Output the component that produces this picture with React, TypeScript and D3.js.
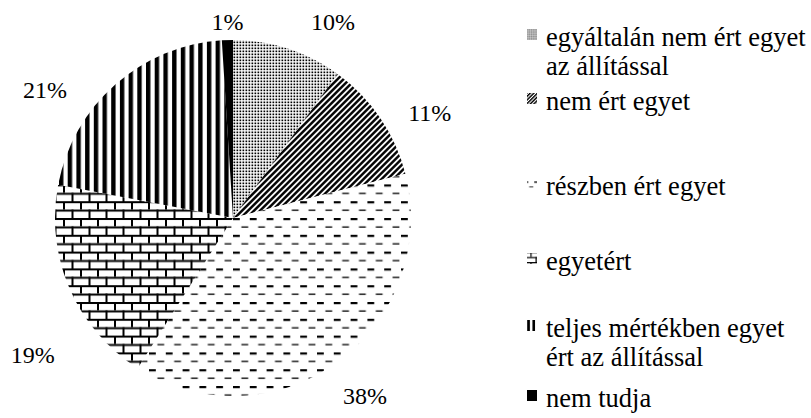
import React from "react";
import * as d3 from "d3";

const categories = [
  "egyáltalán nem ért egyet az állítással",
  "nem ért egyet",
  "részben ért egyet",
  "egyetért",
  "teljes mértékben egyet ért az állítással",
  "nem tudja",
];
const values = [10, 11, 38, 19, 21, 1];
const valueLabels = ["10%", "11%", "38%", "19%", "21%", "1%"];
const legendLines = [
  ["egyáltalán nem ért egyet", "az állítással"],
  ["nem ért egyet"],
  ["részben ért egyet"],
  ["egyetért"],
  ["teljes mértékben egyet", "ért az állítással"],
  ["nem tudja"],
];

// layout
const W = 811, H = 418;
const cx = 233, cy = 218, R = 178;
const labelR = R + 26;
const labelOffsets = [[37, -2], [28, 9], [12, 13], [-13, 56], [-53, 25], [1, 8]];
const legendBaselines = [46, 110, 195, 270, 337, 407];
const legendLineH = 29;
const patternIds = ["pDots", "pDiag", "pDash", "pBrick", "pVert", "pSolid"];
const FONT = "Liberation Serif, DejaVu Serif, Times New Roman, serif";

function Patterns({ suffix, scale }: { suffix: string; scale: number }) {
  const t = `scale(${scale})`;
  return (
    <>
      <pattern id={"pDots" + suffix} width={3} height={3} patternUnits="userSpaceOnUse" patternTransform={t}>
        <rect width={3} height={3} fill="#fff" />
        <rect x={0.5} y={0.5} width={1.7} height={1.7} fill="#000" />
      </pattern>
      <pattern id={"pDiag" + suffix} width={4.24} height={4.24} patternUnits="userSpaceOnUse" patternTransform={`${t} rotate(45)`}>
        <rect width={4.24} height={4.24} fill="#fff" />
        <rect width={2.4} height={4.24} fill="#000" />
      </pattern>
      <pattern id={"pDash" + suffix} width={16.8} height={16.8} patternUnits="userSpaceOnUse" patternTransform={t}>
        <rect width={16.8} height={16.8} fill="#fff" />
        <rect x={0} y={0} width={6.8} height={2.2} fill="#000" />
        <rect x={8.4} y={8.4} width={6.8} height={1.3} fill="#000" />
      </pattern>
      <pattern id={"pBrick" + suffix} width={17} height={16.8} patternUnits="userSpaceOnUse" patternTransform={t}>
        <rect width={17} height={16.8} fill="#fff" />
        <rect x={0} y={0} width={17} height={2} fill="#000" />
        <rect x={0} y={8.4} width={17} height={2} fill="#000" />
        <rect x={0} y={0} width={2} height={8.4} fill="#000" />
        <rect x={8.5} y={8.4} width={2} height={8.4} fill="#000" />
      </pattern>
      <pattern id={"pVert" + suffix} width={8.7} height={8.7} patternUnits="userSpaceOnUse" patternTransform={t}>
        <rect width={8.7} height={8.7} fill="#fff" />
        <rect width={4.4} height={8.7} fill="#000" />
      </pattern>
      <pattern id={"pSolid" + suffix} width={4} height={4} patternUnits="userSpaceOnUse">
        <rect width={4} height={4} fill="#000" />
      </pattern>
    </>
  );
}

export default function App() {
  const pie = d3.pie<number>().sort(null).value((d) => d)(values);
  const arc = d3.arc<d3.PieArcDatum<number>>().innerRadius(0).outerRadius(R);
  const labelArc = d3.arc<d3.PieArcDatum<number>>().innerRadius(labelR).outerRadius(labelR);

  return (
    <svg width={W} height={H} style={{ position: "absolute", left: 0, top: 0, background: "#fff" }}>
      <defs>
        <Patterns suffix="" scale={1} />
        <Patterns suffix="S" scale={0.6} />
      </defs>
      <rect width={W} height={H} fill="#fff" />
      <g transform={`translate(${cx},${cy})`}>
        {pie.map((p, i) => (
          <path key={categories[i]} d={arc(p) || ""} fill={`url(#${patternIds[i]})`} />
        ))}
        {pie.map((p, i) => {
          const [x, y] = labelArc.centroid(p);
          return (
            <text key={"l" + i} x={x + labelOffsets[i][0]} y={y + labelOffsets[i][1]} dy="0.34em"
              textAnchor="middle" style={{ fontFamily: FONT, fontSize: "24px" }} fill="#000">
              {valueLabels[i]}
            </text>
          );
        })}
      </g>
      <g>
        {legendLines.map((lines, i) => {
          const b = legendBaselines[i];
          return (
            <g key={"lg" + i}>
              <rect x={527} y={b - 17} width={10} height={11} fill={`url(#${patternIds[i]}S)`} />
              <text x={546} y={b} style={{ fontFamily: FONT, fontSize: "26.5px" }} fill="#000">
                {lines.map((ln, j) => (
                  <tspan key={j} x={546} y={b + j * legendLineH}>{ln}</tspan>
                ))}
              </text>
            </g>
          );
        })}
      </g>
    </svg>
  );
}
